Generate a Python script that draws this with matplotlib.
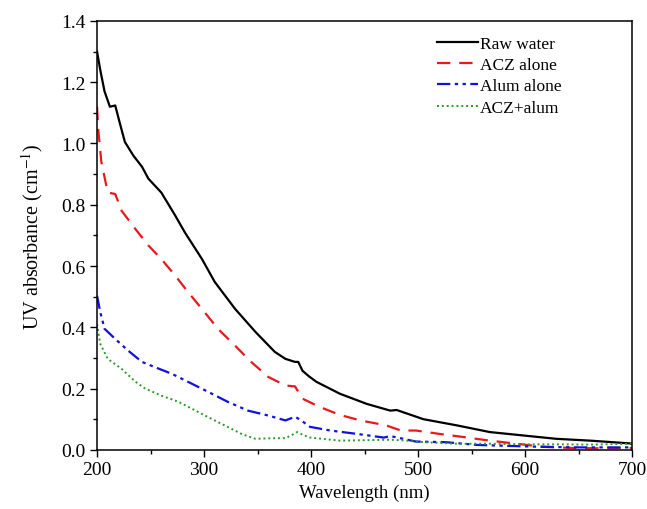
import matplotlib
matplotlib.use("Agg")
import matplotlib.pyplot as plt
from matplotlib.ticker import MultipleLocator

plt.rcParams['font.family'] = ['Liberation Serif', 'DejaVu Serif']
plt.rcParams['mathtext.fontset'] = 'stix'

raw_x = [200, 203, 207, 212, 217, 221, 226, 234, 242, 248, 260, 273, 282, 298, 310, 329, 348, 366, 376, 385,
         388, 392, 398, 405, 427, 452, 474, 480, 490, 505, 536, 567, 598, 629, 661, 698, 700]
raw_y = [1.30, 1.24, 1.17, 1.12, 1.124, 1.07, 1.005, 0.96, 0.924, 0.885, 0.84, 0.765, 0.71, 0.623, 0.548, 0.46, 0.385, 0.32, 0.297, 0.287,
         0.287, 0.258, 0.24, 0.222, 0.183, 0.15, 0.128, 0.13, 0.118, 0.10, 0.08, 0.058, 0.047, 0.036, 0.03, 0.021, 0.02]

acz_x = [200, 201, 204, 210, 217, 223, 236, 248, 260, 273, 285, 298, 313, 329, 344, 360, 376, 385,
         392, 408, 427, 446, 470, 484, 498, 520, 542, 567, 592, 616, 644, 670, 700]
acz_y = [1.12, 1.05, 0.94, 0.84, 0.835, 0.78, 0.72, 0.667, 0.623, 0.569, 0.515, 0.46, 0.395, 0.34, 0.287, 0.238, 0.21, 0.207,
         0.167, 0.14, 0.114, 0.096, 0.08, 0.063, 0.063, 0.052, 0.042, 0.03, 0.02, 0.01, 0.006, 0.005, 0.006]

alum_x = [200, 203, 207, 217, 229, 242, 254, 270, 285, 304, 322, 341, 360, 376, 385, 390, 399, 418, 443, 468, 474,
          498, 526, 555, 583, 614, 650, 700]
alum_y = [0.503, 0.45, 0.395, 0.362, 0.324, 0.287, 0.27, 0.248, 0.222, 0.189, 0.157, 0.128, 0.112, 0.096, 0.108, 0.098, 0.075, 0.063, 0.052, 0.04, 0.045,
          0.027, 0.025, 0.016, 0.013, 0.01, 0.008, 0.008]

mix_x = [200, 203, 210, 223, 236, 245, 260, 276, 292, 307, 322, 335, 348, 364, 376, 383, 387, 393, 399, 427, 458, 474, 490, 505,
         536, 567, 598, 629, 660, 700]
mix_y = [0.41, 0.346, 0.297, 0.264, 0.222, 0.20, 0.177, 0.157, 0.128, 0.101, 0.075, 0.052, 0.036, 0.038, 0.038, 0.05, 0.058, 0.048, 0.04, 0.03, 0.032, 0.033, 0.03, 0.025,
         0.02, 0.02, 0.018, 0.018, 0.017, 0.02]

fig = plt.figure(figsize=(6.47, 5.10), dpi=100)
ax = fig.add_axes([0.15, 0.116, 0.827, 0.841])

ax.plot(raw_x, raw_y, color='black', lw=1.6, label='Raw water')
ax.plot(acz_x, acz_y, color='#e8191c', lw=1.6, dashes=(6, 4), label='ACZ alone')
ax.plot(alum_x, alum_y, color='#1010e0', lw=1.6, dashes=(6, 2, 1.5, 2, 1.5, 2), label='Alum alone')
ax.plot(mix_x, mix_y, color='#2a9a2a', lw=1.4, dashes=(1, 1.5), label='ACZ+alum')

ax.set_xlim(200, 700)
ax.set_ylim(0, 1.4)
ax.xaxis.set_major_locator(MultipleLocator(100))
ax.xaxis.set_minor_locator(MultipleLocator(50))
ax.yaxis.set_major_locator(MultipleLocator(0.2))
ax.yaxis.set_minor_locator(MultipleLocator(0.1))
ax.yaxis.set_major_formatter(matplotlib.ticker.FormatStrFormatter('%.1f'))
ax.tick_params(which='major', direction='out', length=5, width=1, labelsize=14, pad=3)
ax.tick_params(which='minor', direction='out', length=3, width=1)
for s in ax.spines.values():
    s.set_linewidth(1.1)

ax.set_xlabel('Wavelength (nm)', fontsize=13.5, labelpad=4)
ax.set_ylabel('UV absorbance (cm$^{-1}$)', fontsize=14.5, labelpad=12)

ax.legend(loc='upper left', bbox_to_anchor=(0.635, 0.965), borderpad=0, borderaxespad=0,
          frameon=False, fontsize=12.5,
          handlelength=2.36, handletextpad=0.12, labelspacing=0.29)

fig.savefig('out.png', dpi=100)
